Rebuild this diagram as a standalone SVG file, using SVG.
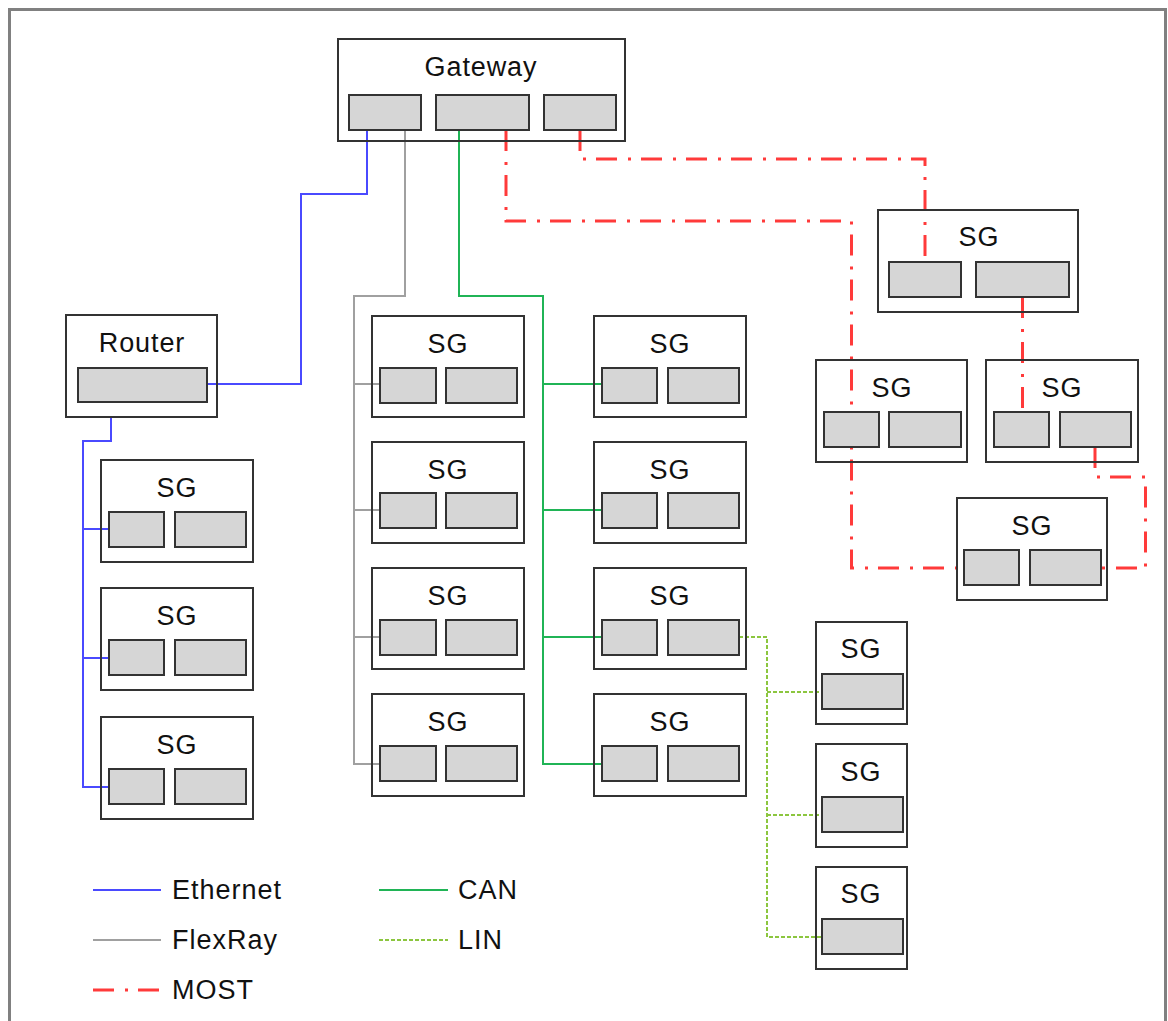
<svg xmlns="http://www.w3.org/2000/svg" width="1168" height="1021" viewBox="0 0 1168 1021">
<style>
.box{fill:none;stroke:#333;stroke-width:2}
.port{fill:#d6d6d6;stroke:#333;stroke-width:2}
.t{font-family:"Liberation Sans",Arial,sans-serif;font-size:27px;letter-spacing:0.9px;fill:#111;text-anchor:middle}
.lt{font-family:"Liberation Sans",Arial,sans-serif;font-size:27px;letter-spacing:1px;fill:#111}
.eth{fill:none;stroke:#4a4aff;stroke-width:2}
.fr{fill:none;stroke:#a0a0a0;stroke-width:2}
.can{fill:none;stroke:#20b456;stroke-width:2}
.lin{fill:none;stroke:#8cc63f;stroke-width:2;stroke-dasharray:4 2}
.most{fill:none;stroke:#ff3a3a;stroke-width:3;stroke-dasharray:21 11 3 10}
</style>
<rect x="0" y="0" width="1168" height="1021" fill="#fff"/>
<rect x="9.5" y="9.5" width="1156" height="1040" fill="none" stroke="#808080" stroke-width="3"/>
<g id="connectors">
<path class="eth" d="M367,130 V194 H301 V384 H207"/>
<path class="eth" d="M111,417 V441 H83 V787 H109 M83,529 H109 M83,658 H109" stroke-width="2.5"/>
<path class="fr" d="M405,130 V296 H354 V764 H380 M354,384 H380 M354,510 H380 M354,637 H380"/>
<path class="can" d="M459,130 V296 H543 V764 H602 M543,384 H602 M543,510 H602 M543,637 H602"/>
<path class="lin" d="M739,637 H767 V937 H822 M767,692 H822 M767,815 H822"/>
<path class="most" d="M506,130 V221 H851.5 V568 H964"/>
<path class="most" d="M580,130 V159 H925 V262"/>
<path class="most" d="M1022.5,297 V412"/>
<path class="most" d="M1095,447 V477 H1145.5 V568 H1101"/>
</g>
<g id="gateway">
<rect class="box" x="338" y="39" width="287" height="102"/>
<text class="t" x="481" y="76">Gateway</text>
<rect class="port" x="349" y="95" width="72" height="35"/>
<rect class="port" x="436" y="95" width="93" height="35"/>
<rect class="port" x="544" y="95" width="72" height="35"/>
</g>
<g id="router">
<rect class="box" x="66" y="315" width="151" height="102"/>
<text class="t" x="142" y="352">Router</text>
<rect class="port" x="78" y="368" width="129" height="34"/>
</g>
<g id="sg-l1"><rect class="box" x="101" y="460" width="152" height="102"/><text class="t" x="177" y="497">SG</text><rect class="port" x="109" y="512" width="55" height="35"/><rect class="port" x="175" y="512" width="71" height="35"/></g>
<g id="sg-l2"><rect class="box" x="101" y="588" width="152" height="102"/><text class="t" x="177" y="625">SG</text><rect class="port" x="109" y="640" width="55" height="35"/><rect class="port" x="175" y="640" width="71" height="35"/></g>
<g id="sg-l3"><rect class="box" x="101" y="717" width="152" height="102"/><text class="t" x="177" y="754">SG</text><rect class="port" x="109" y="769" width="55" height="35"/><rect class="port" x="175" y="769" width="71" height="35"/></g>
<g id="sg-m1"><rect class="box" x="372" y="316" width="152" height="101"/><text class="t" x="448" y="353">SG</text><rect class="port" x="380" y="368" width="56" height="35"/><rect class="port" x="446" y="368" width="71" height="35"/></g>
<g id="sg-m2"><rect class="box" x="372" y="442" width="152" height="101"/><text class="t" x="448" y="479">SG</text><rect class="port" x="380" y="493" width="56" height="35"/><rect class="port" x="446" y="493" width="71" height="35"/></g>
<g id="sg-m3"><rect class="box" x="372" y="568" width="152" height="101"/><text class="t" x="448" y="605">SG</text><rect class="port" x="380" y="620" width="56" height="35"/><rect class="port" x="446" y="620" width="71" height="35"/></g>
<g id="sg-m4"><rect class="box" x="372" y="694" width="152" height="102"/><text class="t" x="448" y="731">SG</text><rect class="port" x="380" y="746" width="56" height="35"/><rect class="port" x="446" y="746" width="71" height="35"/></g>
<g id="sg-c1"><rect class="box" x="594" y="316" width="152" height="101"/><text class="t" x="670" y="353">SG</text><rect class="port" x="602" y="368" width="55" height="35"/><rect class="port" x="668" y="368" width="71" height="35"/></g>
<g id="sg-c2"><rect class="box" x="594" y="442" width="152" height="101"/><text class="t" x="670" y="479">SG</text><rect class="port" x="602" y="493" width="55" height="35"/><rect class="port" x="668" y="493" width="71" height="35"/></g>
<g id="sg-c3"><rect class="box" x="594" y="568" width="152" height="101"/><text class="t" x="670" y="605">SG</text><rect class="port" x="602" y="620" width="55" height="35"/><rect class="port" x="668" y="620" width="71" height="35"/></g>
<g id="sg-c4"><rect class="box" x="594" y="694" width="152" height="102"/><text class="t" x="670" y="731">SG</text><rect class="port" x="602" y="746" width="55" height="35"/><rect class="port" x="668" y="746" width="71" height="35"/></g>
<g id="sg-lin1"><rect class="box" x="816" y="622" width="91" height="102"/><text class="t" x="861" y="658">SG</text><rect class="port" x="822" y="674" width="81" height="35"/></g>
<g id="sg-lin2"><rect class="box" x="816" y="744" width="91" height="103"/><text class="t" x="861" y="781">SG</text><rect class="port" x="822" y="797" width="81" height="35"/></g>
<g id="sg-lin3"><rect class="box" x="816" y="867" width="91" height="102"/><text class="t" x="861" y="903">SG</text><rect class="port" x="822" y="919" width="81" height="35"/></g>
<g id="sg-r1"><rect class="box" x="878" y="210" width="200" height="102"/><text class="t" x="979" y="246">SG</text><rect class="port" x="889" y="262" width="72" height="35"/><rect class="port" x="976" y="262" width="93" height="35"/></g>
<g id="sg-r2"><rect class="box" x="816" y="360" width="151" height="102"/><text class="t" x="892" y="397">SG</text><rect class="port" x="824" y="412" width="55" height="35"/><rect class="port" x="889" y="412" width="72" height="35"/></g>
<g id="sg-r3"><rect class="box" x="986" y="360" width="152" height="102"/><text class="t" x="1062" y="397">SG</text><rect class="port" x="994" y="412" width="55" height="35"/><rect class="port" x="1060" y="412" width="71" height="35"/></g>
<g id="sg-r4"><rect class="box" x="957" y="498" width="150" height="102"/><text class="t" x="1032" y="535">SG</text><rect class="port" x="964" y="550" width="55" height="35"/><rect class="port" x="1030" y="550" width="71" height="35"/></g>
<g id="legend">
<line class="eth" x1="93" y1="890" x2="161" y2="890"/><text class="lt" x="172" y="899">Ethernet</text>
<line class="fr" x1="93" y1="940" x2="161" y2="940"/><text class="lt" x="172" y="949">FlexRay</text>
<line class="most" x1="93" y1="990" x2="161" y2="990"/><text class="lt" x="172" y="999">MOST</text>
<line class="can" x1="379" y1="890" x2="448" y2="890"/><text class="lt" x="458" y="899">CAN</text>
<line class="lin" x1="379" y1="940" x2="448" y2="940"/><text class="lt" x="458" y="949">LIN</text>
</g>
</svg>
